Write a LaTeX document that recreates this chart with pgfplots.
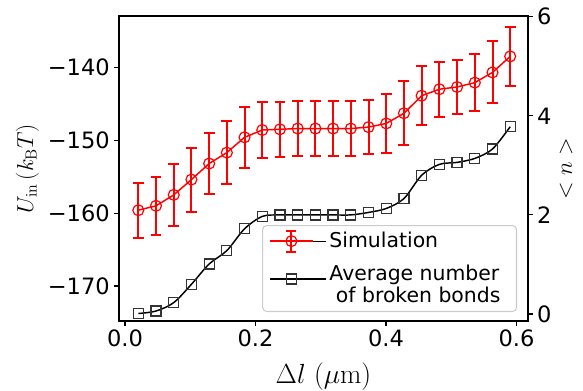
\documentclass[border=0pt]{standalone}
\usepackage[no-math]{fontspec}
\setmainfont{DejaVu Sans}
\usepackage{pgfplots}
\usepackage{pgfplotstable}
\pgfplotsset{compat=1.18}

% Interaction energy (mean and spread) and mean number of broken bonds
% as a function of the extension.
\pgfplotstableread{
x       u       err    n
0.0204  -159.6  3.8    0.01
0.0475  -159.0  4.0    0.06
0.0747  -157.5  4.3    0.23
0.1018  -155.4  4.4    0.60
0.1290  -153.2  4.2    1.01
0.1561  -151.7  4.35   1.28
0.1832  -149.6  4.2    1.72
0.2104  -148.6  3.8    1.97
0.2375  -148.5  3.8    2.00
0.2647  -148.4  3.8    2.00
0.2918  -148.4  3.8    2.00
0.3189  -148.4  3.8    2.00
0.3461  -148.4  3.8    2.00
0.3732  -148.2  3.75   2.05
0.4004  -147.7  4.05   2.13
0.4275  -146.3  4.4    2.33
0.4546  -143.9  4.05   2.80
0.4818  -143.0  3.75   3.02
0.5089  -142.7  3.75   3.06
0.5361  -142.1  3.95   3.14
0.5632  -140.7  4.25   3.33
0.5903  -138.5  4.0    3.78
}\datatable

\pgfplotsset{
  common/.style={
    scale only axis,
    width=306.75pt, height=228.75pt,
    xmin=-0.0092, xmax=0.6176,
    axis line style={line width=0.8pt},
    tick style={line width=0.8pt, black},
    tick align=outside,
    major tick length=3.4pt,
    tick label style={font=\fontsize{16.9}{20}\selectfont},
    label style={font=\fontsize{18}{22}\selectfont},
  },
}

\begin{document}
\begin{tikzpicture}
\useasboundingbox (-89.25pt,-51.75pt) rectangle (348pt,240.75pt);

\begin{axis}[
  common,
  ymin=-174.8, ymax=-132.96,
  xtick={0,0.2,0.4,0.6},
  xticklabels={0.0,0.2,0.4,0.6},
  ytick={-170,-160,-150,-140},
  yticklabels={−170,−160,−150,−140},
  xtick pos=bottom, ytick pos=left,
  xlabel={$\Delta l\ (\mu\mathrm{m})$},
  ylabel={$U_{\mathrm{in}}\,(k_{\mathrm{B}}T)$},
  xlabel style={at={(axis description cs:0.5,-0.183)}, anchor=center,
                font=\fontsize{19.5}{22}\selectfont},
  ylabel style={at={(axis description cs:-0.224,0.5)}, anchor=center},
]
\addplot[red, line width=1.1pt, mark=o, mark size=4.1pt,
  mark options={line width=0.9pt, fill=none},
  error bars/.cd, y dir=both, y explicit,
  error bar style={line width=1.5pt, red},
  error mark options={rotate=90, line width=1.5pt, mark size=4.1pt, red}]
  table[x=x, y=u, y error=err] {\datatable};
\end{axis}

\begin{axis}[
  common,
  clip=false,
  ymin=-0.141, ymax=6.014,
  axis x line=none,
  axis y line*=right,
  ytick={0,2,4,6},
  yticklabels={0,2,4,6},
  legend cell align=left,
  legend style={
    at={(1,0)}, anchor=south east, xshift=-8.25pt, yshift=6.75pt,
    draw=black!20, rounded corners=3pt, fill=white, fill opacity=0.8,
    text opacity=1, line width=0.8pt,
    font=\fontsize{15.3}{16.3}\selectfont,
    inner xsep=5pt, inner ysep=3pt,
    row sep=7pt,
  },
]
\addlegendimage{legend image code/.code={
  \path (0pt,0pt) -- (42pt,0pt);
  \draw[red, line width=1.1pt, sharp corners] (0pt,0pt) -- (32pt,0pt);
  \draw[red, line width=1.5pt, sharp corners] (16pt,-7.9pt) -- (16pt,7.9pt);
  \draw[red, line width=1.5pt, sharp corners] (12.25pt,7.9pt) -- (19.75pt,7.9pt)
                               (12.25pt,-7.9pt) -- (19.75pt,-7.9pt);
  \draw[red, line width=0.9pt] (16pt,0pt) circle (4.1pt);
}}
\addlegendentry{Simulation}
\addplot[black, line width=1.1pt, smooth, tension=0.5,
  mark=square, mark size=3.75pt,
  mark options={line width=0.9pt, draw=black!80, fill=none},
  legend image code/.code={
    \path (0pt,0pt) -- (42pt,0pt);
    \draw[black, line width=1.1pt, sharp corners] (0pt,0pt) -- (32pt,0pt);
    \draw[black!80, line width=0.9pt, sharp corners] (12.25pt,-3.75pt) rectangle (19.75pt,3.75pt);
  }]
  table[x=x, y=n] {\datatable};
\addlegendentry{\begin{tabular}{@{}l@{\hspace{5pt}}}Average number\\\ of broken bonds\end{tabular}}
% blank row giving the legend frame its bottom padding
\addlegendimage{empty legend}
\addlegendentry[inner sep=0pt, font=\fontsize{1}{1}\selectfont]{}
% right-hand axis title
\node[rotate=90, anchor=center, font=\fontsize{18}{22}\selectfont]
  at (rel axis cs:1.093,0.5) {$<n>$};
\end{axis}
\end{tikzpicture}
\end{document}
